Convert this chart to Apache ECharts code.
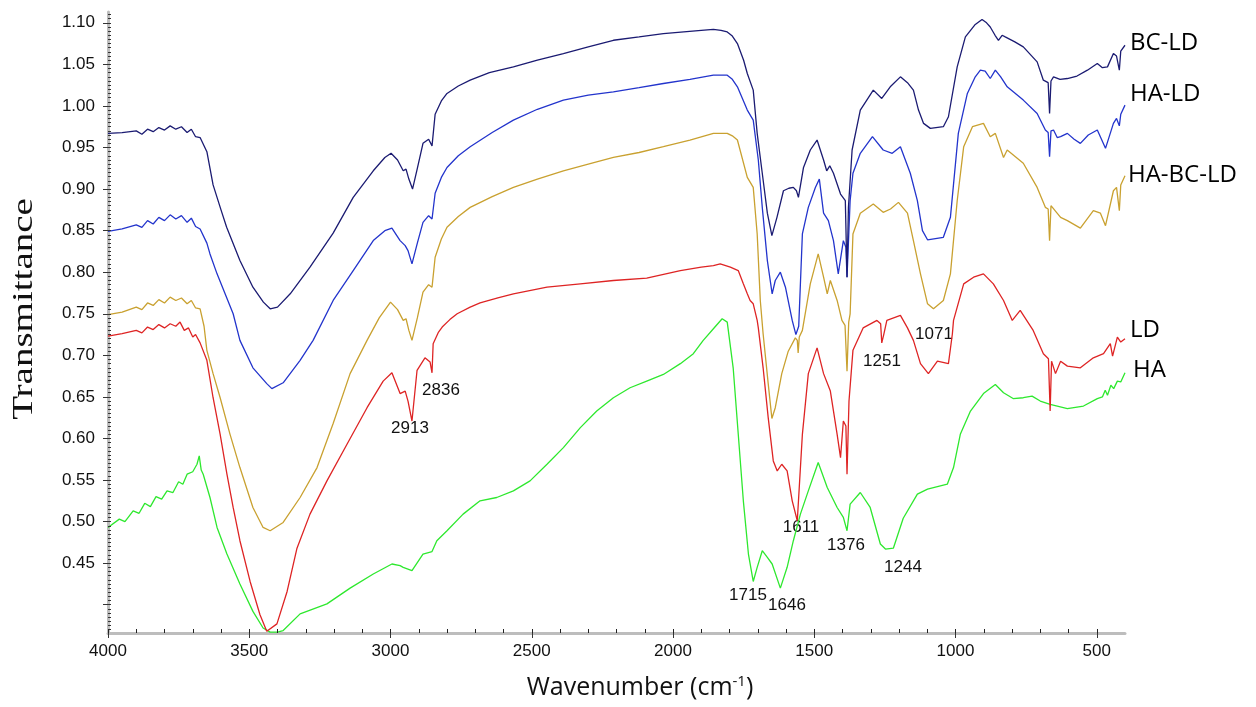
<!DOCTYPE html>
<html>
<head>
<meta charset="utf-8">
<title>FTIR spectra</title>
<script src="https://cdn.jsdelivr.net/npm/echarts@6/dist/echarts.min.js"></script>
<style>
html, body { margin: 0; padding: 0; background: #fff; }
#chart { width: 1256px; height: 707px; }
</style>
</head>
<body>
<div id="chart"></div>
<script>
// wavenumber (cm-1), transmittance pairs
var bcLD = [[4000,0.967],[3950,0.968],[3900,0.970],[3880,0.966],[3860,0.972],[3840,0.969],[3820,0.974],[3800,0.971],[3780,0.976],[3760,0.972],[3740,0.975],[3720,0.968],[3705,0.972],[3690,0.963],[3674,0.962],[3650,0.945],[3628,0.905],[3600,0.875],[3580,0.854],[3533,0.814],[3487,0.782],[3450,0.764],[3426,0.756],[3400,0.758],[3355,0.774],[3285,0.806],[3203,0.847],[3132,0.890],[3061,0.922],[3020,0.938],[2998,0.943],[2975,0.935],[2955,0.922],[2945,0.924],[2935,0.912],[2922,0.900],[2905,0.925],[2885,0.955],[2865,0.960],[2853,0.952],[2842,0.990],[2820,1.006],[2800,1.015],[2760,1.024],[2718,1.031],[2650,1.040],[2565,1.047],[2480,1.055],[2388,1.063],[2300,1.071],[2211,1.079],[2120,1.083],[2034,1.087],[1900,1.091],[1857,1.092],[1830,1.091],[1808,1.089],[1790,1.084],[1772,1.075],[1750,1.055],[1737,1.039],[1716,1.019],[1702,0.967],[1684,0.919],[1666,0.871],[1650,0.844],[1632,0.866],[1609,0.898],[1590,0.901],[1574,0.902],[1563,0.898],[1556,0.890],[1538,0.926],[1514,0.947],[1490,0.959],[1467,0.935],[1456,0.922],[1445,0.928],[1432,0.919],[1407,0.894],[1390,0.886],[1384,0.794],[1379,0.878],[1366,0.947],[1337,0.995],[1291,1.019],[1261,1.009],[1231,1.023],[1195,1.035],[1170,1.028],[1149,1.019],[1131,0.995],[1113,0.979],[1089,0.973],[1043,0.975],[1025,0.987],[994,1.047],[965,1.083],[930,1.098],[906,1.104],[890,1.100],[877,1.095],[860,1.085],[848,1.079],[835,1.085],[824,1.083],[790,1.077],[760,1.071],[711,1.053],[689,1.031],[672,1.028],[667,0.991],[662,1.030],[653,1.035],[630,1.032],[604,1.033],[570,1.036],[533,1.043],[498,1.051],[480,1.046],[462,1.047],[441,1.063],[430,1.060],[420,1.043],[415,1.066],[400,1.073]];

var haLD = [[4000,0.849],[3950,0.852],[3900,0.857],[3880,0.854],[3860,0.862],[3840,0.858],[3820,0.866],[3800,0.862],[3780,0.869],[3760,0.864],[3740,0.868],[3720,0.860],[3705,0.865],[3690,0.855],[3674,0.852],[3650,0.835],[3639,0.822],[3614,0.798],[3557,0.750],[3533,0.718],[3487,0.685],[3438,0.666],[3420,0.660],[3380,0.667],[3320,0.694],[3274,0.718],[3203,0.766],[3132,0.802],[3061,0.838],[3020,0.850],[2995,0.853],[2966,0.838],[2948,0.832],[2938,0.826],[2924,0.810],[2905,0.835],[2885,0.860],[2865,0.868],[2853,0.864],[2842,0.895],[2820,0.914],[2800,0.926],[2760,0.940],[2718,0.951],[2640,0.968],[2565,0.983],[2480,0.996],[2388,1.007],[2300,1.013],[2211,1.017],[2120,1.022],[2034,1.027],[1940,1.032],[1857,1.037],[1808,1.037],[1790,1.032],[1772,1.023],[1737,0.995],[1716,0.983],[1698,0.935],[1684,0.878],[1666,0.814],[1649,0.774],[1638,0.790],[1620,0.800],[1602,0.782],[1578,0.742],[1565,0.725],[1555,0.735],[1542,0.846],[1521,0.878],[1496,0.902],[1482,0.912],[1467,0.871],[1450,0.862],[1432,0.838],[1415,0.798],[1409,0.796],[1397,0.838],[1388,0.830],[1384,0.794],[1373,0.886],[1363,0.919],[1337,0.943],[1294,0.963],[1256,0.947],[1224,0.943],[1195,0.951],[1160,0.919],[1135,0.886],[1117,0.850],[1099,0.839],[1043,0.842],[1018,0.866],[990,0.967],[958,1.015],[930,1.035],[912,1.043],[895,1.042],[877,1.033],[859,1.043],[840,1.035],[817,1.023],[760,1.007],[711,0.991],[682,0.971],[672,0.968],[667,0.939],[662,0.970],[653,0.971],[640,0.962],[628,0.963],[604,0.967],[580,0.960],[558,0.955],[530,0.965],[498,0.971],[469,0.949],[441,0.979],[430,0.985],[420,0.976],[415,0.990],[400,1.001]];

var haBcLD = [[4000,0.749],[3950,0.752],[3900,0.758],[3880,0.755],[3860,0.763],[3840,0.760],[3820,0.767],[3800,0.763],[3780,0.770],[3760,0.766],[3740,0.769],[3720,0.762],[3705,0.766],[3690,0.757],[3674,0.756],[3660,0.735],[3650,0.706],[3628,0.678],[3603,0.649],[3568,0.605],[3533,0.565],[3487,0.517],[3451,0.493],[3426,0.489],[3380,0.499],[3320,0.529],[3260,0.565],[3203,0.618],[3143,0.678],[3083,0.718],[3040,0.745],[3000,0.764],[2975,0.755],[2955,0.742],[2945,0.744],[2935,0.730],[2924,0.718],[2905,0.745],[2885,0.776],[2865,0.785],[2853,0.782],[2842,0.818],[2820,0.840],[2800,0.854],[2760,0.867],[2718,0.878],[2640,0.891],[2565,0.902],[2480,0.912],[2388,0.922],[2300,0.930],[2211,0.938],[2120,0.944],[2034,0.951],[1940,0.959],[1857,0.967],[1808,0.967],[1790,0.964],[1772,0.959],[1737,0.914],[1716,0.902],[1702,0.846],[1691,0.766],[1681,0.726],[1663,0.666],[1650,0.624],[1638,0.637],[1615,0.678],[1592,0.705],[1567,0.721],[1560,0.718],[1557,0.703],[1553,0.722],[1542,0.730],[1514,0.786],[1486,0.822],[1467,0.794],[1454,0.774],[1443,0.790],[1419,0.766],[1402,0.742],[1391,0.736],[1384,0.681],[1378,0.740],[1373,0.750],[1363,0.846],[1337,0.871],[1291,0.882],[1256,0.872],[1230,0.876],[1202,0.884],[1170,0.871],[1149,0.838],[1124,0.798],[1099,0.762],[1078,0.756],[1043,0.766],[1018,0.798],[994,0.886],[971,0.951],[940,0.975],[901,0.979],[877,0.963],[859,0.967],[830,0.938],[817,0.947],[760,0.931],[711,0.902],[682,0.878],[672,0.876],[667,0.838],[662,0.880],[657,0.878],[628,0.866],[604,0.862],[558,0.853],[512,0.874],[487,0.871],[469,0.856],[441,0.898],[430,0.902],[420,0.874],[415,0.905],[400,0.916]];

var ld = [[4000,0.723],[3950,0.726],[3900,0.730],[3880,0.727],[3860,0.734],[3840,0.731],[3820,0.737],[3800,0.733],[3780,0.738],[3760,0.735],[3745,0.740],[3730,0.730],[3715,0.733],[3700,0.722],[3690,0.725],[3674,0.715],[3650,0.694],[3628,0.649],[3603,0.605],[3579,0.557],[3557,0.517],[3533,0.477],[3497,0.428],[3462,0.388],[3438,0.368],[3402,0.377],[3366,0.416],[3331,0.468],[3285,0.509],[3225,0.549],[3154,0.593],[3083,0.637],[3026,0.669],[2995,0.679],[2966,0.654],[2948,0.657],[2938,0.645],[2924,0.621],[2906,0.682],[2878,0.697],[2860,0.692],[2853,0.679],[2849,0.714],[2830,0.728],[2817,0.734],[2790,0.743],[2764,0.750],[2718,0.758],[2683,0.763],[2620,0.769],[2565,0.774],[2446,0.782],[2328,0.786],[2211,0.790],[2093,0.793],[1974,0.802],[1900,0.806],[1857,0.808],[1833,0.810],[1797,0.806],[1769,0.802],[1751,0.786],[1737,0.774],[1727,0.766],[1716,0.762],[1702,0.742],[1698,0.733],[1681,0.685],[1663,0.625],[1645,0.573],[1631,0.561],[1615,0.569],[1596,0.561],[1578,0.525],[1560,0.501],[1542,0.605],[1521,0.678],[1490,0.709],[1467,0.678],[1443,0.657],[1419,0.605],[1407,0.577],[1397,0.621],[1388,0.615],[1384,0.557],[1377,0.645],[1363,0.706],[1327,0.733],[1278,0.742],[1265,0.738],[1261,0.715],[1254,0.725],[1243,0.742],[1195,0.748],[1170,0.733],[1149,0.718],[1124,0.690],[1096,0.678],[1064,0.693],[1025,0.690],[1011,0.726],[1007,0.742],[971,0.786],[936,0.794],[901,0.798],[866,0.786],[830,0.766],[799,0.742],[796,0.740],[771,0.754],[725,0.730],[689,0.702],[671,0.696],[665,0.633],[660,0.693],[646,0.678],[628,0.693],[604,0.687],[558,0.685],[512,0.697],[476,0.702],[452,0.714],[444,0.699],[427,0.722],[415,0.716],[400,0.720]];

var ha = [[4000,0.493],[3960,0.503],[3940,0.500],[3911,0.513],[3890,0.510],[3870,0.522],[3850,0.518],[3830,0.530],[3810,0.527],[3791,0.537],[3770,0.535],[3750,0.548],[3735,0.545],[3720,0.557],[3700,0.560],[3685,0.569],[3677,0.579],[3670,0.562],[3663,0.557],[3639,0.529],[3614,0.493],[3579,0.461],[3533,0.425],[3487,0.392],[3451,0.372],[3426,0.367],[3400,0.367],[3380,0.369],[3320,0.389],[3225,0.401],[3143,0.420],[3061,0.437],[2995,0.449],[2966,0.447],[2955,0.445],[2924,0.441],[2885,0.461],[2853,0.464],[2836,0.477],[2800,0.489],[2743,0.509],[2683,0.525],[2624,0.529],[2565,0.537],[2506,0.549],[2446,0.569],[2388,0.589],[2328,0.613],[2270,0.633],[2211,0.649],[2152,0.661],[2093,0.669],[2034,0.677],[1974,0.690],[1928,0.702],[1893,0.718],[1857,0.732],[1826,0.744],[1808,0.740],[1787,0.685],[1769,0.605],[1751,0.525],[1733,0.461],[1716,0.428],[1702,0.445],[1684,0.465],[1666,0.457],[1649,0.449],[1620,0.420],[1596,0.445],[1574,0.477],[1549,0.509],[1521,0.537],[1486,0.571],[1454,0.541],[1419,0.517],[1397,0.505],[1384,0.489],[1373,0.521],[1337,0.535],[1302,0.517],[1266,0.473],[1248,0.467],[1220,0.468],[1185,0.504],[1135,0.533],[1099,0.539],[1029,0.545],[1007,0.565],[983,0.605],[947,0.633],[901,0.654],[859,0.665],[830,0.655],[796,0.648],[760,0.649],[729,0.651],[700,0.645],[665,0.641],[604,0.636],[547,0.639],[498,0.648],[480,0.650],[470,0.658],[462,0.652],[450,0.664],[440,0.660],[427,0.669],[415,0.668],[400,0.679]];

var xTicks = [500, 1000, 1500, 2000, 2500, 3000, 3500, 4000];
var yTicks = [0.40, 0.45, 0.50, 0.55, 0.60, 0.65, 0.70, 0.75, 0.80, 0.85, 0.90, 0.95, 1.00, 1.05, 1.10];
var yLabels = [0.45, 0.50, 0.55, 0.60, 0.65, 0.70, 0.75, 0.80, 0.85, 0.90, 0.95, 1.00, 1.05, 1.10];

// minor tick positions
var xMinor = [];
for (var i = 500; i <= 4000; i += 100) xMinor.push(i);
var yMinor = [];
for (var j = 74; j <= 222; j++) yMinor.push(j * 0.005);

var peaks = [
    ['2913', 410, 428], ['2836', 441, 390], ['1715', 748, 595], ['1646', 787, 605],
    ['1611', 801, 527], ['1376', 846, 545], ['1244', 903, 567], ['1251', 882, 361],
    ['1071', 934, 334]
];
var names = [['BC-LD', 1130, 43], ['HA-LD', 1130, 94], ['HA-BC-LD', 1128, 175], ['LD', 1130, 330], ['HA', 1133, 370]];

var axisColor = '#bdbdbd';

function spectrum(name, data, color) {
    return {
        name: name,
        type: 'line',
        data: data,
        symbol: 'none',
        showSymbol: false,
        lineStyle: { color: color, width: 1.3 },
        itemStyle: { color: color }
    };
}

var graphics = [];
for (var p = 0; p < peaks.length; p++) {
    graphics.push({
        type: 'text', x: peaks[p][1], y: peaks[p][2],
        style: { text: peaks[p][0], font: '17px "Liberation Sans"', fill: '#111',
            align: 'center', verticalAlign: 'middle', textAlign: 'center', textVerticalAlign: 'middle' }
    });
}
for (var n = 0; n < names.length; n++) {
    graphics.push({
        type: 'text', x: names[n][1], y: names[n][2],
        style: { text: names[n][0], font: '24px "Open Sans"', fill: '#000',
            align: 'left', verticalAlign: 'middle', textAlign: 'left', textVerticalAlign: 'middle' }
    });
}
graphics.push({
    type: 'text', x: 24, y: 309, rotation: Math.PI / 2, scaleX: 1.3,
    style: { text: 'Transmittance', font: '30px "Liberation Serif"', fill: '#111',
        align: 'center', verticalAlign: 'middle', textAlign: 'center', textVerticalAlign: 'middle' }
});
graphics.push({
    type: 'text', x: 640, y: 688,
    style: {
        text: '{a|Wavenumber (cm}{s|-1}{a|)}',
        align: 'center', verticalAlign: 'middle', textAlign: 'center', textVerticalAlign: 'middle',
        rich: {
            a: { font: '25px "Open Sans"', fill: '#111', color: '#111' },
            s: { font: '15px "Open Sans"', fill: '#111', color: '#111', padding: [0, 0, 12, 0] }
        }
    }
});

var option = {
    animation: false,
    backgroundColor: '#fff',
    grid: { left: 108, right: 131, top: 12, bottom: 74 },
    xAxis: [{
        type: 'value', min: 400, max: 4000, inverse: true,
        axisLine: { lineStyle: { color: axisColor, width: 3 } },
        axisTick: { customValues: xTicks, length: 5, lineStyle: { color: '#333', width: 1 } },
        axisLabel: {
            customValues: xTicks, color: '#111', fontSize: 17, fontFamily: 'Liberation Sans', margin: 10,
            formatter: function (v) { return String(v); }
        },
        splitLine: { show: false }
    }, {
        type: 'value', min: 400, max: 4000, inverse: true, position: 'bottom', z: 10,
        axisLine: { show: false },
        axisTick: { show: true, customValues: xMinor, inside: true, length: 4, lineStyle: { color: '#222', width: 1 } },
        axisLabel: { show: false },
        splitLine: { show: false }
    }],
    yAxis: [{
        type: 'value', min: 0.366, max: 1.113,
        axisLine: { show: true, lineStyle: { color: axisColor, width: 3 } },
        axisTick: { show: true, customValues: yTicks, length: 5, lineStyle: { color: '#333', width: 1 } },
        axisLabel: {
            customValues: yLabels, color: '#111', fontSize: 17, fontFamily: 'Liberation Sans', margin: 13,
            formatter: function (v) { return v.toFixed(2); }
        },
        splitLine: { show: false }
    }, {
        type: 'value', min: 0.366, max: 1.113, position: 'left', z: 10,
        axisLine: { show: false },
        axisTick: { show: true, customValues: yMinor, inside: true, length: 3, lineStyle: { color: '#333', width: 1 } },
        axisLabel: { show: false },
        splitLine: { show: false }
    }],
    series: [
        spectrum('HA', ha, '#2ee82e'),
        spectrum('LD', ld, '#de2424'),
        spectrum('HA-BC-LD', haBcLD, '#c9a130'),
        spectrum('HA-LD', haLD, '#2334cc'),
        spectrum('BC-LD', bcLD, '#1b1b72')
    ],
    graphic: graphics
};

var myChart = echarts.init(document.getElementById('chart'));
myChart.setOption(option);
</script>
</body>
</html>
